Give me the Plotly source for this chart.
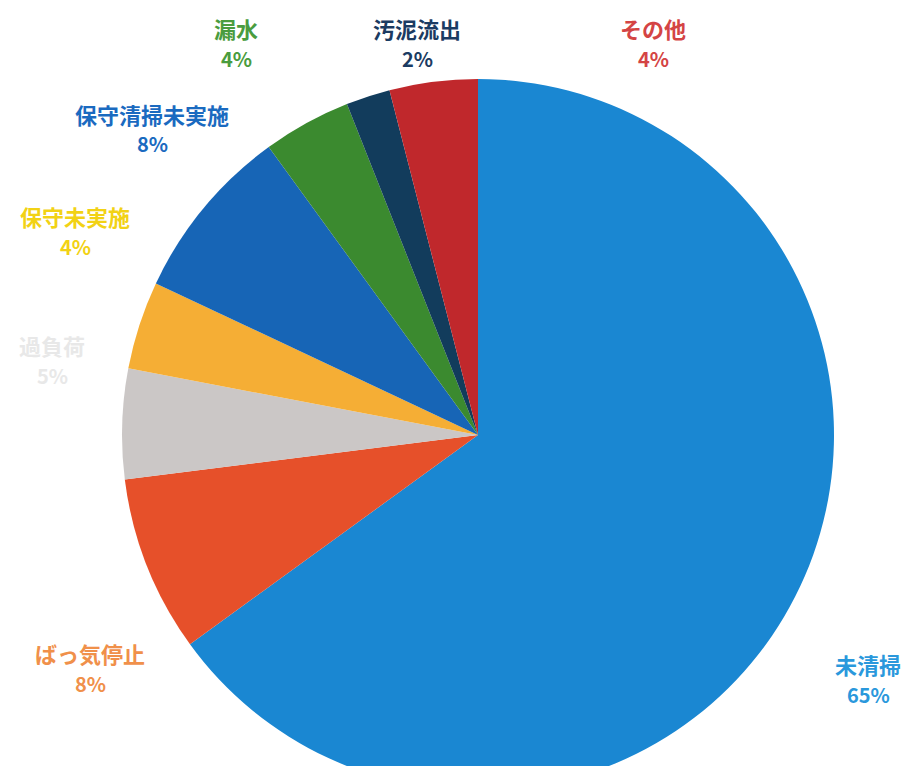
import plotly.graph_objects as go

# Data
categories = ["未清掃", "ばっ気停止", "過負荷", "保守未実施", "保守清掃未実施", "漏水", "汚泥流出", "その他"]
values = [65, 8, 5, 4, 8, 4, 2, 4]
pct_labels = ["65%", "8%", "5%", "4%", "8%", "4%", "2%", "4%"]

slice_colors = ["#1a87d2", "#e6502a", "#cbc7c6", "#f5ae35", "#1765b6", "#3b8a2f", "#123c5c", "#c0282c"]
label_colors = ["#2a98dc", "#f0904a", "#e8e8e8", "#f2d215", "#1a6ac0", "#4a9c3e", "#1b3b62", "#d44444"]

W, H = 908, 800
cx, cy, r = 478, 435, 356

# label (name line) centres in pixels (layout positions); percent line sits 30px below
label_pos = [(868, 664), (90, 653), (52, 345), (75, 216), (152, 114), (236, 28), (417, 28), (653, 28)]
line_gap = 30

fig = go.Figure(go.Pie(
    labels=categories,
    values=values,
    sort=False,
    direction="clockwise",
    rotation=0,
    textinfo="none",
    hoverinfo="label+percent",
    marker=dict(colors=slice_colors, line=dict(width=0)),
    domain=dict(x=[(cx - r) / W, (cx + r) / W], y=[(H - cy - r) / H, (H - cy + r) / H]),
    showlegend=False,
))

for cat, pct, col, (px, py) in zip(categories, pct_labels, label_colors, label_pos):
    fig.add_annotation(
        x=px / W, y=1 - py / H, xref="paper", yref="paper",
        text=f"<b>{cat}</b>",
        showarrow=False, xanchor="center", yanchor="middle",
        font=dict(family="Noto Sans CJK JP", size=22, color=col),
    )
    fig.add_annotation(
        x=px / W, y=1 - (py + line_gap) / H, xref="paper", yref="paper",
        text=f"<b>{pct}</b>",
        showarrow=False, xanchor="center", yanchor="middle",
        font=dict(family="Noto Sans CJK JP", size=20, color=col),
    )

fig.update_layout(
    width=W, height=H,
    margin=dict(l=0, r=0, t=0, b=0),
    paper_bgcolor="white", plot_bgcolor="white",
)

fig.write_html(
    "out.html",
    config={"displayModeBar": False},
    post_script="document.body.style.margin='0';document.body.style.overflow='hidden';document.documentElement.style.overflow='hidden';",
)
